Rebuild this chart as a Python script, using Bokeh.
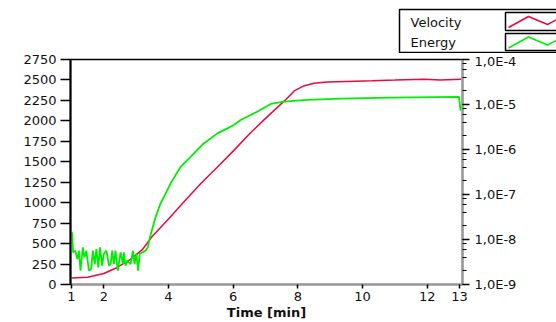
from bokeh.plotting import figure
from bokeh.layouts import column
from bokeh.models import (Range1d, LogAxis, FixedTicker, CustomJSTickFormatter, LogScale)
from bokeh.core.properties import value
from bokeh.embed import file_html
from bokeh.resources import INLINE

# ---- data ----
time_velocity = [1.0, 1.5, 2.0, 2.4, 2.8, 3.2, 3.5, 4.0, 4.5, 5.0, 5.5, 6.0, 6.5, 7.0,
                 7.3, 7.6, 7.9, 8.2, 8.5, 8.9, 9.5, 10.3, 11.0, 11.9, 12.4, 13.05]
velocity = [79, 88, 135, 205, 300, 430, 590, 800, 1020, 1235, 1430, 1630, 1840, 2030,
            2140, 2250, 2370, 2430, 2460, 2475, 2482, 2490, 2498, 2510, 2500, 2508]

time_energy = [1.02, 1.05, 1.12, 1.18, 1.23, 1.28, 1.35, 1.40, 1.46, 1.54, 1.61, 1.66, 1.72,
               1.77, 1.83, 1.88, 1.95, 2.00, 2.08, 2.16, 2.21, 2.26, 2.31, 2.36, 2.43, 2.52,
               2.59, 2.62, 2.67, 2.72, 2.83, 2.90, 2.95, 3.01, 3.06, 3.11, 3.19, 3.29, 3.36,
               3.44, 3.60, 3.75, 3.91, 4.06, 4.37, 4.68, 5.09, 5.51, 5.82, 6.02, 6.23, 6.43,
               6.74, 7.16, 7.57, 8.29, 9.32, 10.87, 12.98, 13.03]
energy = [639, 393, 414, 312, 414, 168, 454, 332, 414, 168, 189, 414, 250,
          434, 209, 454, 230, 373, 414, 230, 250, 414, 250, 414, 168, 393,
          250, 393, 230, 291, 250, 414, 250, 373, 168, 373, 393, 414, 454,
          598, 823, 987, 1110, 1233, 1437, 1560, 1724, 1847, 1908, 1949, 2010, 2051,
          2112, 2207, 2235, 2256, 2272, 2284, 2293, 2125]

x_ticks = [1, 2, 4, 6, 8, 10, 12, 13]
y_ticks = [0, 250, 500, 750, 1000, 1250, 1500, 1750, 2000, 2250, 2500, 2750]
series_names = ["Velocity", "Energy"]
series_colors = ["#F0063C", "#00EE00"]
x_label = "Time [min]"

FONT = "DejaVu Sans"
TXT = "#111111"

# ---------------- legend strip (label left, sample box right) ----------------
LEG_H = 53
leg = figure(width=556, height=LEG_H, output_backend="svg", toolbar_location=None,
             x_range=Range1d(0, 556), y_range=Range1d(LEG_H, 0),
             min_border=0, x_axis_type=None, y_axis_type=None)
leg.frame_align = False
leg.xgrid.visible = False
leg.ygrid.visible = False
leg.outline_line_color = None
leg.quad(left=[399], right=[620], top=[9], bottom=[52], fill_color="white",
         line_color="black", line_width=1.5)
row_y = [22, 42]
box_tb = [(12, 30), (33, 50)]
for name, color, ty, (bt, bb) in zip(series_names, series_colors, row_y, box_tb):
    leg.text(x=[410], y=[ty], text=[name], text_font=value(FONT), text_font_size="13px",
             text_baseline="middle", text_align="left", text_color=TXT)
    leg.quad(left=[505], right=[620], top=[bt], bottom=[bb], fill_color="white",
             line_color="black", line_width=1.5)
    mid = (bt + bb) / 2
    leg.line([508, 528, 547, 566], [mid + 6, mid - 5, mid + 3, mid - 7],
             line_color=color, line_width=1.5)

# ---------------- main chart ----------------
p = figure(width=556, height=322 - LEG_H, output_backend="svg", toolbar_location=None,
           x_range=Range1d(0.97, 13.09), y_range=Range1d(0, 2750),
           min_border_left=70, min_border_right=94, min_border_top=59 - LEG_H,
           min_border_bottom=38)
p.frame_align = False
p.extra_y_ranges = {"log": Range1d(1e-9, 1e-4)}
p.extra_y_scales = {"log": LogScale()}

p.xgrid.visible = False
p.ygrid.visible = False
p.outline_line_color = "black"
p.outline_line_width = 1.5

p.line(time_velocity, velocity, line_color=series_colors[0], line_width=1.5)
p.line(time_energy, energy, line_color=series_colors[1], line_width=1.8)

# left axis
ya = p.yaxis[0]
ya.ticker = FixedTicker(ticks=y_ticks)
ya.axis_line_color = "black"
ya.axis_line_width = 2
ya.major_tick_out = 10
ya.major_tick_in = 0
ya.major_tick_line_color = "black"
ya.major_tick_line_width = 1.5
ya.minor_tick_line_color = None
ya.major_label_standoff = 4
ya.major_label_text_font = FONT
ya.major_label_text_font_size = "13px"
ya.major_label_text_color = TXT

# bottom axis
xa = p.xaxis[0]
xa.ticker = FixedTicker(ticks=x_ticks)
xa.axis_line_color = "#9a9a9a"
xa.axis_line_width = 2
xa.major_tick_out = 4
xa.major_tick_in = 0
xa.major_tick_line_color = "black"
xa.major_tick_line_width = 1.5
xa.minor_tick_line_color = None
xa.major_label_standoff = 3
xa.major_label_text_font = FONT
xa.major_label_text_font_size = "13px"
xa.major_label_text_color = TXT
xa.axis_label = x_label
xa.axis_label_standoff = 1
xa.axis_label_text_font = FONT
xa.axis_label_text_font_size = "13px"
xa.axis_label_text_font_style = "bold"
xa.axis_label_text_color = TXT

# right log axis
ra = LogAxis(y_range_name="log")
ra.formatter = CustomJSTickFormatter(code='return "1,0E" + Math.round(Math.log10(tick));')
ra.axis_line_color = "#9a9a9a"
ra.axis_line_width = 2
ra.major_tick_out = 7
ra.major_tick_in = 0
ra.minor_tick_out = 4
ra.minor_tick_in = 0
ra.major_tick_line_color = "black"
ra.minor_tick_line_color = "black"
ra.major_tick_line_width = 1.5
ra.major_label_standoff = 5
ra.major_label_text_font = FONT
ra.major_label_text_font_size = "13px"
ra.major_label_text_color = TXT
p.add_layout(ra, "right")

layout = column(leg, p, spacing=0)
open("out.html", "w").write(file_html(layout, INLINE))
